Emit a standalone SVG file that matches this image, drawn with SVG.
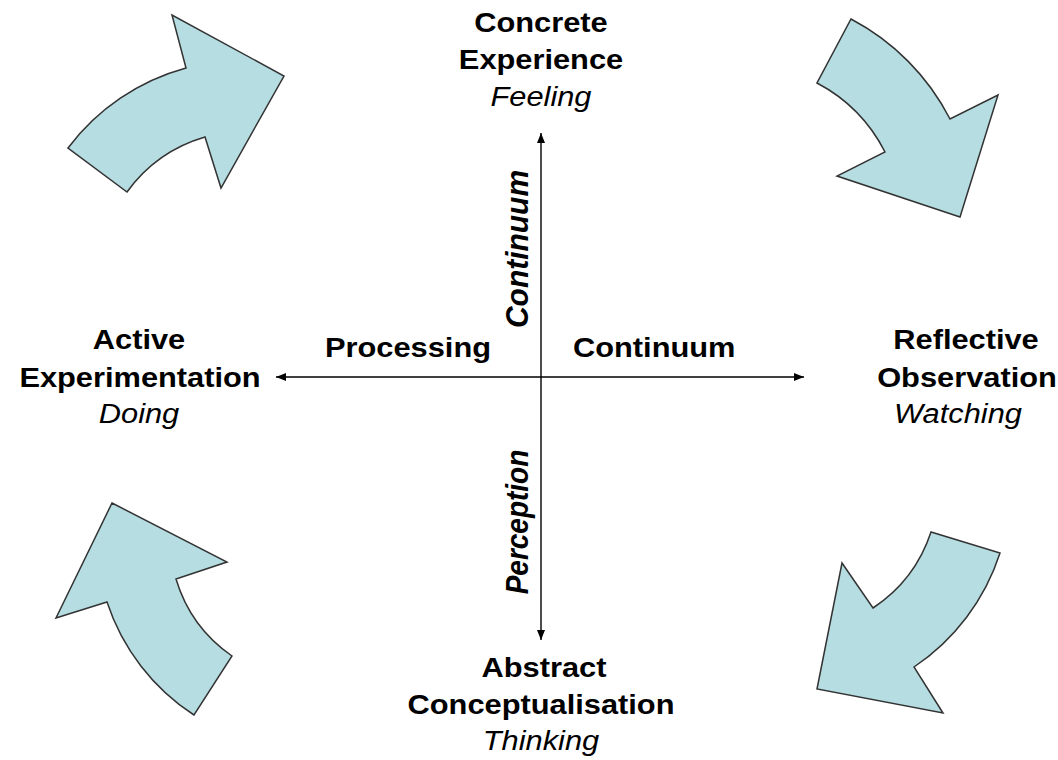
<svg xmlns="http://www.w3.org/2000/svg" width="1058" height="760" viewBox="0 0 1058 760">
<style>
.arr{fill:#b5dde2;stroke:#333;stroke-width:1.5;stroke-linejoin:miter}
.b{font-family:"Liberation Sans",Arial,sans-serif;font-weight:bold;font-size:28px;fill:#000}
.i{font-family:"Liberation Sans",Arial,sans-serif;font-style:italic;font-size:28px;fill:#000}
.bi{font-family:"Liberation Sans",Arial,sans-serif;font-weight:bold;font-style:italic;font-size:28px;fill:#000}
.ax{stroke:#000;stroke-width:1.4;fill:none}
</style>
<defs>
<marker id="ah" viewBox="0 0 10 10" refX="10" refY="5" markerWidth="10" markerHeight="10" markerUnits="userSpaceOnUse" orient="auto-start-reverse">
<path d="M0,1 L10,5 L0,9 Z" fill="#000"/>
</marker>
</defs>
<rect width="1058" height="760" fill="#fff"/>
<g id="cycle-arrows">
<path id="arrow-tl" class="arr" d="M68,148 A220,220 0 0 1 186,68 L172,15 L284,76 L221,188 L205,137 A147,147 0 0 0 127,192 Z"/>
<path id="arrow-tr" class="arr" d="M851,19 A233,233 0 0 1 950,119 L998,95 L960,217 L837,176 L885,152 A160,160 0 0 0 817,83 Z"/>
<path id="arrow-br" class="arr" d="M1000,553 A218,218 0 0 1 914,667 L943,713 L817,689 L842,563 L873,608 A146,146 0 0 0 931,532 Z"/>
<path id="arrow-bl" class="arr" d="M112,503 L227,562 L176,579 A144,144 0 0 0 232,656 L194,715 A215,215 0 0 1 107,602 L56,618 Z"/>
</g>
<g id="connectors">
<line class="ax" x1="541" y1="377" x2="541" y2="133" marker-end="url(#ah)"/>
<line class="ax" x1="541" y1="377" x2="541" y2="640" marker-end="url(#ah)"/>
<line class="ax" x1="541" y1="377" x2="276" y2="377" marker-end="url(#ah)"/>
<line class="ax" x1="541" y1="377" x2="804" y2="377" marker-end="url(#ah)"/>
</g>
<g id="node-concrete" text-anchor="middle">
<text class="b" transform="translate(541,32) scale(1.1,1)">Concrete</text>
<text class="b" transform="translate(541,69) scale(1.1,1)">Experience</text>
<text class="i" transform="translate(541,106) scale(1.1,1)">Feeling</text>
</g>
<g id="node-reflective" text-anchor="middle">
<text class="b" transform="translate(966,349) scale(1.1,1)">Reflective</text>
<text class="b" transform="translate(967,387) scale(1.1,1)">Observation</text>
<text class="i" transform="translate(958,423) scale(1.1,1)">Watching</text>
</g>
<g id="node-abstract" text-anchor="middle">
<text class="b" transform="translate(544,677) scale(1.1,1)">Abstract</text>
<text class="b" transform="translate(541,714) scale(1.1,1)">Conceptualisation</text>
<text class="i" transform="translate(541,750) scale(1.1,1)">Thinking</text>
</g>
<g id="node-active" text-anchor="middle">
<text class="b" transform="translate(139,349) scale(1.1,1)">Active</text>
<text class="b" transform="translate(140,387) scale(1.1,1)">Experimentation</text>
<text class="i" transform="translate(139,423) scale(1.1,1)">Doing</text>
</g>
<g id="axis-labels">
<text class="b" text-anchor="end" transform="translate(491,357) scale(1.1,1)">Processing</text>
<text class="b" text-anchor="start" transform="translate(573,357) scale(1.1,1)">Continuum</text>
<text class="bi" text-anchor="middle" transform="translate(528,249) rotate(-90) scale(1.07,1.1)">Continuum</text>
<text class="bi" text-anchor="middle" transform="translate(528,522) rotate(-90) scale(1.0,1.1)">Perception</text>
</g>
</svg>
